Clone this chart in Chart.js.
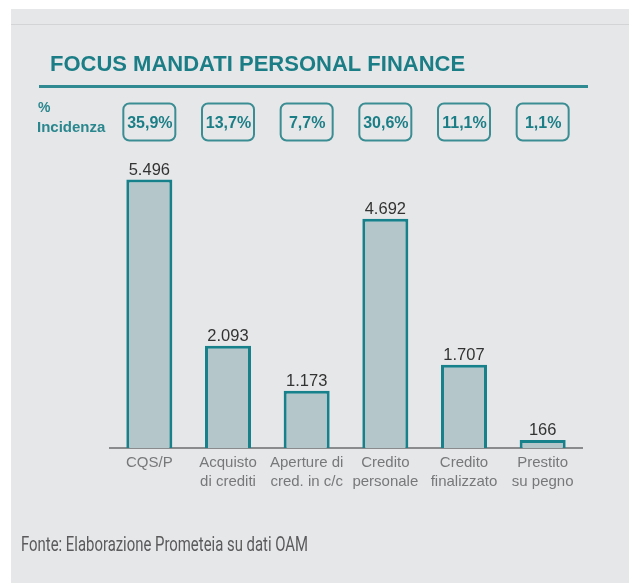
<!DOCTYPE html>
<html>
<head>
<meta charset="utf-8">
<script src="https://cdn.jsdelivr.net/npm/chart.js@4.4.1/dist/chart.umd.min.js"></script>
<style>
  html, body { margin: 0; padding: 0; background: #ffffff; }
  #wrap { position: relative; width: 629px; height: 585px; overflow: hidden; }
  canvas { position: absolute; left: 0; top: 0; }
</style>
</head>
<body>
<div id="wrap"><canvas id="mandati_plot" width="629" height="585"></canvas></div>
<script>
'use strict';

// chart data
const categories = [
    ['CQS/P'],
    ['Acquisto', 'di crediti'],
    ['Aperture di', 'cred. in c/c'],
    ['Credito', 'personale'],
    ['Credito', 'finalizzato'],
    ['Prestito', 'su pegno']
];
const mandati = [5496, 2093, 1173, 4692, 1707, 166];
const incidenza = ['35,9%', '13,7%', '7,7%', '30,6%', '11,1%', '1,1%'];

const chartTitle = 'FOCUS MANDATI PERSONAL FINANCE';
const incidenzaLabel = ['%', 'Incidenza'];
const sourceNote = 'Fonte: Elaborazione Prometeia su dati OAM';

const TEAL = '#1b7e86';
const BAR_FILL = '#b4c6ca';
const BAR_EDGE = '#16818a';

// 5496 -> "5.496"
function formatIt(v) {
    return String(v).replace(/\B(?=(\d{3})+(?!\d))/g, '.');
}

/**
 * Panel, title, rule and source note
 */
const framePlugin = {
    id: 'frame',
    beforeDraw(chart) {
        const ctx = chart.ctx;
        ctx.save();
        ctx.fillStyle = '#e6e7e9';
        ctx.fillRect(11, 9, 618, 574);
        ctx.fillStyle = '#d3d4d6';
        ctx.fillRect(11, 24, 618, 1);

        ctx.fillStyle = TEAL;
        ctx.font = 'bold 22px "Liberation Sans", Arial, sans-serif';
        ctx.textAlign = 'left';
        ctx.textBaseline = 'alphabetic';
        ctx.fillText(chartTitle, 50, 70.5);

        ctx.strokeStyle = '#2f8a91';
        ctx.lineWidth = 3;
        ctx.beginPath();
        ctx.moveTo(39, 86.5);
        ctx.lineTo(588, 86.5);
        ctx.stroke();

        ctx.fillStyle = '#2a878e';
        ctx.font = 'bold 14px "Liberation Sans", Arial, sans-serif';
        ctx.fillText(incidenzaLabel[0], 38, 112);
        ctx.font = 'bold 15px "Liberation Sans", Arial, sans-serif';
        ctx.fillText(incidenzaLabel[1], 37, 132);

        // condensed looking source note
        ctx.fillStyle = '#5a5a5c';
        ctx.font = '21px Roboto, sans-serif';
        const w = ctx.measureText(sourceNote).width;
        ctx.translate(21, 551);
        ctx.scale(287 / w, 1);
        ctx.fillText(sourceNote, 0, 0);
        ctx.restore();
    },
    afterDatasetsDraw(chart) {
        const ctx = chart.ctx;
        const meta = chart.getDatasetMeta(0);
        ctx.save();
        meta.data.forEach((bar, i) => {
            // value above the bar
            ctx.fillStyle = '#333333';
            ctx.font = '16.5px "Liberation Sans", Arial, sans-serif';
            ctx.textAlign = 'center';
            ctx.textBaseline = 'alphabetic';
            ctx.fillText(formatIt(mandati[i]), bar.x, bar.y - 5);

            // incidence box over the category
            const bw = 52, bh = 37, top = 103.5;
            ctx.strokeStyle = '#3a8d93';
            ctx.lineWidth = 2;
            ctx.beginPath();
            ctx.roundRect(bar.x - bw / 2, top, bw, bh, 6);
            ctx.stroke();
            ctx.fillStyle = TEAL;
            ctx.font = 'bold 16px "Liberation Sans", Arial, sans-serif';
            ctx.fillText(incidenza[i], bar.x + 0.5, top + 24.5);
        });
        ctx.restore();
    }
};

const mandati_plot = new Chart('mandati_plot', {
    type: 'bar',
    data: {
        labels: categories,
        datasets: [{
            label: 'Mandati',
            data: mandati,
            backgroundColor: BAR_FILL,
            borderColor: BAR_EDGE,
            borderWidth: 3,
            borderSkipped: 'bottom',
            categoryPercentage: 1,
            barPercentage: 0.585
        }]
    },
    options: {
        responsive: false,
        animation: false,
        devicePixelRatio: 1,
        layout: {padding: {left: 110, right: 47, top: 155, bottom: 0}},
        plugins: {
            legend: {display: false},
            tooltip: {enabled: false}
        },
        scales: {
            x: {
                grid: {display: false, drawTicks: false},
                border: {display: true, color: '#8a8b8d', width: 2},
                ticks: {
                    color: '#77787a',
                    padding: 5,
                    maxRotation: 0,
                    autoSkip: false,
                    font: {family: '"Liberation Sans", Arial, sans-serif', size: 15, lineHeight: 1.27}
                },
                afterFit(scale) { scale.height = 137; }
            },
            y: {
                display: false,
                min: 0,
                max: 6000
            }
        }
    },
    plugins: [framePlugin]
});
</script>
</body>
</html>
